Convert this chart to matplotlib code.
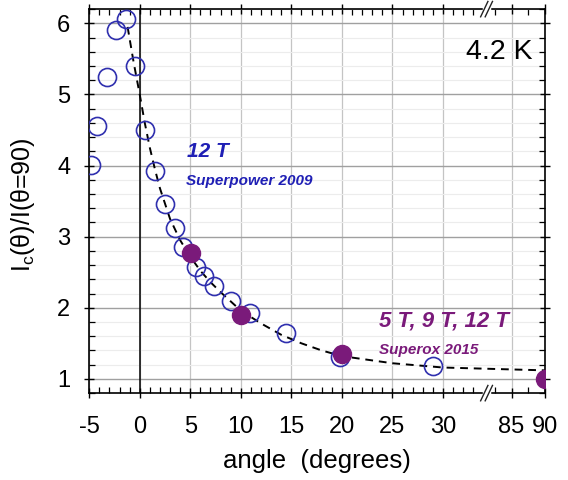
import numpy as np
import matplotlib
matplotlib.use('Agg')
from matplotlib import pyplot as plt

### Data ###
sp_angle = [-4.86, -4.21, -3.24, -2.34, -1.37, -0.47, 0.54, 1.51, 2.52, 3.49,
            4.32, 5.58, 6.37, 7.30, 9.06, 10.9, 14.46, 19.78, 28.96]
sp_ratio = [4.01, 4.55, 5.25, 5.90, 6.06, 5.40, 4.50, 3.92, 3.46, 3.12,
            2.86, 2.58, 2.45, 2.30, 2.10, 1.92, 1.64, 1.31, 1.18]

sx_angle = [5.1, 10.0, 20.0, 90.0]
sx_ratio = [2.77, 1.90, 1.35, 1.0]

fit_angle = [-1.2, -0.6, 0, 0.5, 1, 1.5, 2, 3, 4, 5, 6, 7, 8, 10, 12, 14, 16,
             18, 20, 25, 30, 90]
fit_ratio = [5.95, 5.45, 5.0, 4.6, 4.25, 3.95, 3.68, 3.25, 2.95, 2.72, 2.52,
             2.36, 2.22, 1.96, 1.78, 1.62, 1.50, 1.40, 1.32, 1.22, 1.16, 1.12]

xtick_vals = [-5, 0, 5, 10, 15, 20, 25, 30, 85, 90]
xtick_labels = ['-5', '0', '5', '10', '15', '20', '25', '30', '85', '90']
ytick_vals = [1, 2, 3, 4, 5, 6]

### Broken x axis: -5..34.3 then 81.25..90 squeezed ###
BRK_LO = 34.3
BRK_HI = 81.25
SQ = 0.66

def fwd(x):
    x = np.asarray(x, dtype=float)
    return np.where(x <= BRK_LO, x, BRK_LO + np.clip(x - BRK_HI, 0, None) * SQ)

def inv(y):
    y = np.asarray(y, dtype=float)
    return np.where(y <= BRK_LO, y, BRK_HI + (y - BRK_LO) / SQ)

plt.rcParams['font.family'] = ['Liberation Sans', 'DejaVu Sans']

BLUE = '#2f2fae'
PURPLE = '#7a1a7a'

fig = plt.figure(figsize=(5.68, 4.8), dpi=100)
ax = fig.add_axes([0.157, 0.181, 0.8023, 0.800])
ax.set_xscale('function', functions=(fwd, inv))
ax.set_xlim(-5, 90)
ax.set_ylim(0.8, 6.2)

# grid
ax.set_xticks(xtick_vals)
ax.set_xticklabels(xtick_labels)
minor_x = [v for v in range(-4, 34) if v % 5 != 0] + [82.5, 87.5]
ax.set_xticks(minor_x, minor=True)
ax.set_yticks(ytick_vals)
ax.set_yticks(np.arange(0.8, 6.21, 0.2), minor=True)
ax.grid(axis='x', which='major', color='#c4c4c4', lw=0.9, zorder=0)
ax.grid(axis='y', which='major', color='#a0a0a0', lw=1.0, zorder=0)
ax.grid(axis='y', which='minor', color='#ececec', lw=0.8, zorder=0)
ax.set_axisbelow(True)
ax.axvline(0, color='black', lw=1.1, zorder=1)

ax.tick_params(which='major', direction='inout', length=7, width=1.0,
               top=True, right=True, labelsize=17)
ax.tick_params(axis='x', which='major', pad=13)
ax.tick_params(axis='y', which='major', pad=10)
ax.tick_params(which='minor', direction='in', length=4, width=0.9,
               top=True, right=True)
for s in ax.spines.values():
    s.set_linewidth(1.2)

# fit curve
ax.plot(fit_angle, fit_ratio, color='black', lw=1.4, ls=(0, (4, 3)), zorder=2)

# data
ax.plot(sp_angle, sp_ratio, 'o', ms=13, mfc='none', mec=BLUE, mew=1.2, zorder=3)
ax.plot(sx_angle, sx_ratio, 'o', ms=13, mfc=PURPLE, mec=PURPLE, mew=1.0, zorder=4)

# annotations
ax.text(0.214, 0.616, '12 T', transform=ax.transAxes, color='#1f1fb5',
        fontsize=15, fontweight='bold', fontstyle='italic')
ax.text(0.212, 0.542, 'Superpower 2009', transform=ax.transAxes, color='#1f1fb5',
        fontsize=11, fontweight='bold', fontstyle='italic')
ax.text(0.636, 0.173, '5 T, 9 T, 12 T', transform=ax.transAxes, color=PURPLE,
        fontsize=16, fontweight='bold', fontstyle='italic')
ax.text(0.636, 0.102, 'Superox 2015', transform=ax.transAxes, color=PURPLE,
        fontsize=11, fontweight='bold', fontstyle='italic')
ax.text(0.973, 0.870, '4.2 K', transform=ax.transAxes, ha='right',
        fontsize=20.5)

# axis break marks
bx = 0.872
for by in (0.0, 1.0):
    ax.plot([bx - 0.006, bx + 0.006], [by, by], color='white', lw=2.5,
            transform=ax.transAxes, clip_on=False, zorder=5)
    for off in (-0.005, 0.005):
        ax.plot([bx + off - 0.008, bx + off + 0.008], [by - 0.02, by + 0.02],
                color='#222222', lw=1.0, transform=ax.transAxes,
                clip_on=False, zorder=6)

ax.set_xlabel('angle  (degrees)', fontsize=18.5)
ax.set_ylabel(r'I$_\mathregular{c}$(θ)/I(θ=90)', fontsize=18)
ax.xaxis.set_label_coords(0.5, -0.146)
ax.yaxis.set_label_coords(-0.115, 0.49)

fig.savefig('out.png', dpi=100)
